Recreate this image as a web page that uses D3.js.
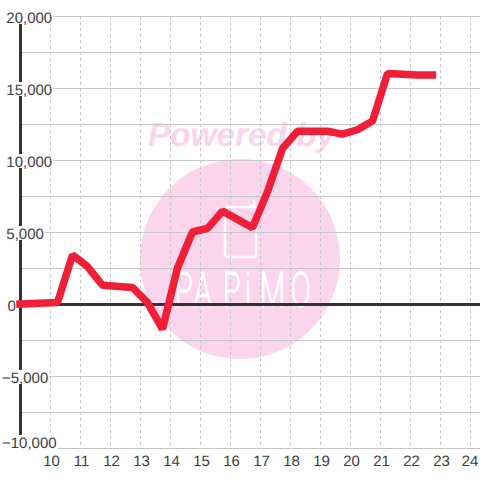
<!DOCTYPE html>
<html><head><meta charset="utf-8">
<script src="https://cdn.jsdelivr.net/npm/d3@7/dist/d3.min.js"></script>
<style>html,body{margin:0;padding:0;background:#fff}svg{display:block}text{font-family:"Liberation Sans",Arial,sans-serif;text-rendering:geometricPrecision}</style>
</head><body><svg id="c" width="480" height="480"></svg>
<script>
const hours=[9,10.25,10.75,11.25,11.75,12.75,13.25,13.75,14.25,14.75,15.25,15.75,16.75,17.25,17.75,18.25,19.25,19.75,20.25,20.75,21.25,21.75,22.25,22.75];
const values=[0,100,3400,2600,1300,1150,100,-1750,2500,5000,5250,6450,5300,7800,10800,12000,12000,11800,12100,12700,16000,15950,15900,15900];
const yGrid=[-10000,-7500,-5000,-2500,0,2500,5000,7500,10000,12500,15000,17500,20000];
const yLabels=[-10000,-5000,0,5000,10000,15000,20000];
const xTicks=[10,11,12,13,14,15,16,17,18,19,20,21,22,23,24];
const watermarkTop="Powered by";
const brandName="PAPiMO";
const brandLeft=[175,194,223,245,260,291];

const svg=d3.select("#c");
const x=d3.scaleLinear().domain([9,24]).range([20,470]);
const y=d3.scaleLinear().domain([-10000,20000]).range([448,16]);

// watermark
svg.append("circle").attr("cx",240).attr("cy",259).attr("r",100).attr("fill","#fbd5ee");
svg.append("text").attr("x",148).attr("y",146).attr("font-size",33).attr("font-weight","bold").attr("font-style","italic")
  .attr("fill","#fbd5ee").attr("textLength",187).attr("lengthAdjust","spacingAndGlyphs").text(watermarkTop);
svg.append("path").attr("d","M228 207 H249 Q252 207 254 205 V200 M228 207 Q225 207 225 210 V254 Q225 257 228 257 H253 Q256 257 256 254 V210 Q256 207 253 207 H249")
  .attr("fill","none").attr("stroke","#fff").attr("stroke-width",2.5);
const sx=0.62;
svg.append("text").attr("transform",`scale(${sx},1)`)
  .attr("x",brandLeft.map(v=>v/sx).join(" ")).attr("y",306).attr("font-size",47).style("font-family","Roboto").attr("font-weight",100)
  .attr("fill","#fff").attr("stroke","#fff").attr("stroke-width",2.2).text(brandName);

// grid
svg.append("g").selectAll("line").data(yGrid).join("line")
  .attr("x1",20).attr("x2",480).attr("y1",d=>y(d)+.5).attr("y2",d=>y(d)+.5).attr("stroke","#c6c6c6").attr("stroke-width",1.2);
svg.append("g").selectAll("line").data(xTicks).join("line")
  .attr("x1",d=>x(d)+.5).attr("x2",d=>x(d)+.5).attr("y1",16).attr("y2",448).attr("stroke","#c6c6c6").attr("stroke-dasharray","3 3");

// axes
svg.append("line").attr("x1",20.5).attr("x2",20.5).attr("y1",y(20000)).attr("y2",y(-10000)).attr("stroke","#333").attr("stroke-width",3);
svg.append("line").attr("x1",20).attr("x2",480).attr("y1",y(0)+.5).attr("y2",y(0)+.5).attr("stroke","#333").attr("stroke-width",3);

// labels with white plates
const fmt=d3.format(",");
const g=svg.append("g");
yLabels.forEach(v=>{
  const lg=g.append("g");
  const c=v===-10000?y(v)-6:y(v)+1;
  const t=lg.append("text").attr("x",v<0?2:(v===0?7.5:6.3)).attr("y",c+5.5).attr("font-size",15).attr("fill","#3c3c3c").text(fmt(v));
  const b=t.node().getBBox();
  lg.insert("rect","text").attr("x",b.x).attr("y",c-7).attr("width",b.width+1).attr("height",14).attr("fill","#fff");
});
svg.append("g").selectAll("text").data(xTicks).join("text")
  .attr("x",d=>Math.min(x(d)+1.5,470)).attr("y",466).attr("text-anchor","middle").attr("font-size",15).attr("fill","#3c3c3c").text(d=>d);

// series
svg.append("path").attr("d",d3.line().x((d,i)=>x(hours[i])).y(d=>y(d))(values))
  .attr("fill","none").attr("stroke","#ee1f36").attr("stroke-width",7.5).attr("stroke-linejoin","bevel").attr("stroke-linecap","square");
</script></body></html>
